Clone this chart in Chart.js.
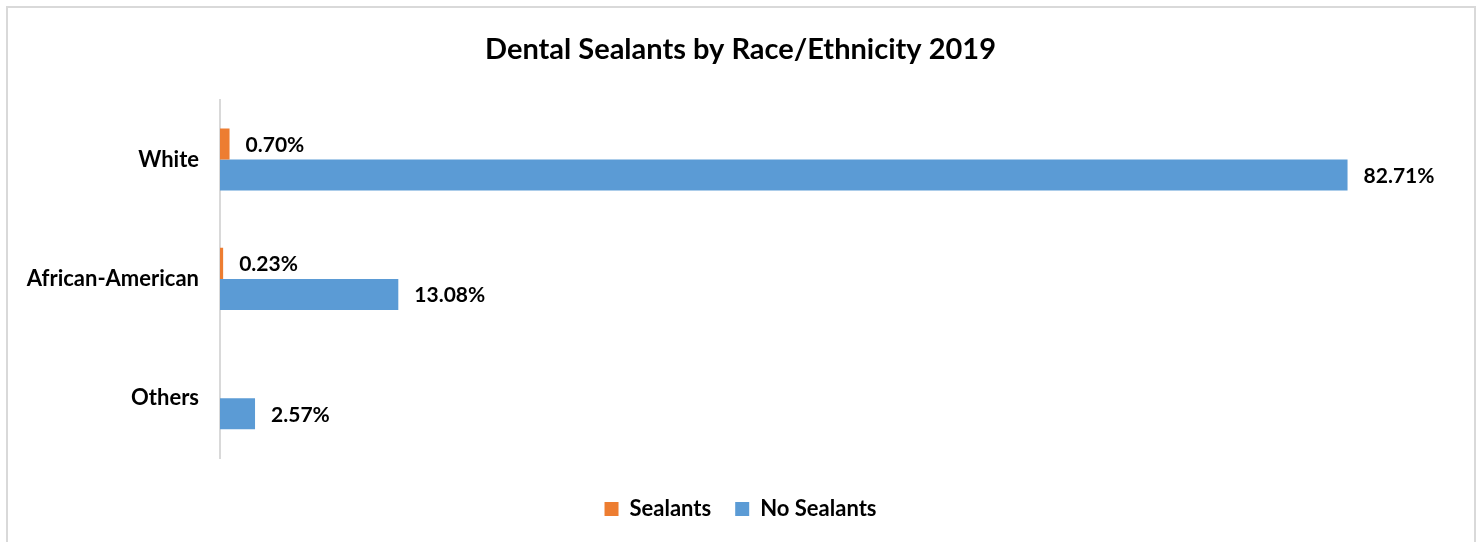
<!DOCTYPE html>
<html>
<head>
<meta charset="utf-8">
<script src="https://cdn.jsdelivr.net/npm/chart.js@4"></script>
<style>
  html, body { margin: 0; padding: 0; background: #fff; overflow: hidden; }
  #frame { position: absolute; left: 6px; top: 6px; width: 1470px; height: 560px; box-sizing: border-box; border: 2px solid #d9d9d9; }
  #c { position: absolute; left: 0; top: 0; }
</style>
</head>
<body>
<div id="frame"></div>
<canvas id="c" width="1481" height="542"></canvas>
<script>
const titleText = "Dental Sealants by Race/Ethnicity 2019";
const categories = ["White", "African-American", "Others"];
const seriesNames = ["Sealants", "No Sealants"];
const sealants = [0.70, 0.23, null];
const noSealants = [82.71, 13.08, 2.57];
const seriesColors = ["#ED7D31", "#5B9BD5"];
const FONT = "Lato, 'Open Sans', sans-serif";

const labelPlugin = {
  id: 'barLabels',
  afterDatasetsDraw(chart) {
    const ctx = chart.ctx;
    ctx.save();
    ctx.font = "bold 21px " + FONT;
    ctx.fillStyle = "#000";
    ctx.textAlign = "left";
    ctx.textBaseline = "middle";
    chart.data.datasets.forEach((ds, di) => {
      const meta = chart.getDatasetMeta(di);
      meta.data.forEach((el, i) => {
        const v = ds.data[i];
        if (v === null || v === undefined) return;
        ctx.fillText(v.toFixed(2) + "%", el.x + 16, el.y + 1);
      });
    });
    ctx.restore();
  }
};

new Chart(document.getElementById('c'), {
  type: 'bar',
  data: {
    labels: categories,
    datasets: [
      { label: seriesNames[0], data: sealants, backgroundColor: seriesColors[0] },
      { label: seriesNames[1], data: noSealants, backgroundColor: seriesColors[1] }
    ]
  },
  options: {
    indexAxis: 'y',
    responsive: false,
    animation: false,
    categoryPercentage: 0.52,
    barPercentage: 1.0,
    layout: { padding: { top: 0, left: 0, right: 0, bottom: 12 } },
    scales: {
      x: {
        min: 0, max: 92.5,
        display: true,
        grid: { display: false },
        border: { display: false },
        ticks: { display: false },
        afterFit(s) { s.height = 16; }
      },
      y: {
        grid: { display: false },
        border: { display: true, color: '#d9d9d9', width: 2 },
        ticks: { color: '#000', padding: 13, font: { family: FONT, size: 22, weight: 'bold' } },
        afterFit(s) { s.width = 220; }
      }
    },
    plugins: {
      title: {
        display: true,
        text: titleText,
        color: '#000',
        font: { family: FONT, size: 29, weight: 'bold' },
        padding: { top: 32, bottom: 33 }
      },
      legend: {
        position: 'bottom',
        labels: {
          color: '#000',
          boxWidth: 14, boxHeight: 14,
          padding: 24,
          font: { family: FONT, size: 22, weight: 'bold' }
        }
      },
      tooltip: { enabled: false }
    }
  },
  plugins: [labelPlugin]
});
</script>
</body>
</html>
